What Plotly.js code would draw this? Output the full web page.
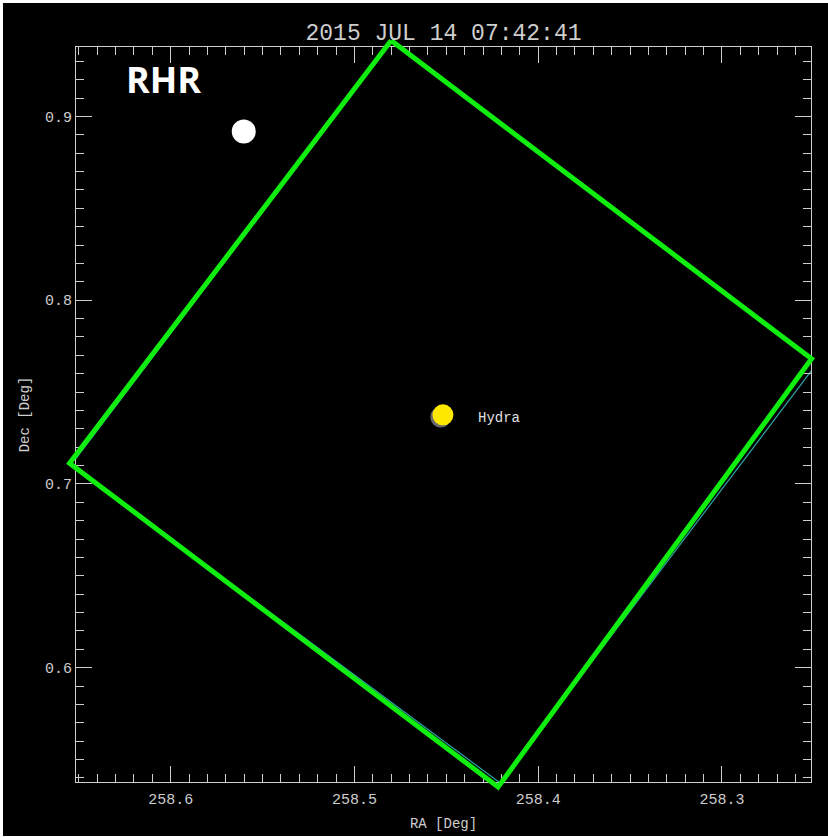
<!DOCTYPE html>
<html>
<head>
<meta charset="utf-8">
<script src="https://cdn.plot.ly/plotly-3.0.1.min.js"></script>
<style>
  html, body { margin: 0; padding: 0; background: #ffffff; width: 828px; height: 837px; overflow: hidden; }
  #chart { position: absolute; left: 3px; top: 3px; width: 825px; height: 833px; background: #000; }
</style>
</head>
<body>
<div id="chart"></div>
<script>
// ---- data ----
const titleText = "2015 JUL 14 07:42:41";
const xTitle = "RA [Deg]";
const yTitle = "Dec [Deg]";
const labelText = "RHR";
const targetName = "Hydra";

// field of view outline (green), corners in RA / Dec, closed
const fovRA  = [258.4800, 258.2512, 258.4218, 258.6550, 258.4800];
const fovDec = [0.9413, 0.7681, 0.5351, 0.7113, 0.9413];
// second (underlying, thin teal) outline
const fov2RA  = [258.4801, 258.2477, 258.4207, 258.6542, 258.4801];
const fov2Dec = [0.9405, 0.7664, 0.5373, 0.7103, 0.9405];

// Hydra position
const hydraRA = [258.4518];
const hydraDec = [0.7376];
// white disc
const dotRA = [258.5602];
const dotDec = [0.8918];

// axis ranges
const xRange = [258.6515, 258.2515];
const yRange = [0.5378, 0.9378];

// ---- layout helpers ----
const pxPerDeg = 1837.5;          // scale of the main axes
const padPx = 10;                 // overlay subplot extends this far past the frame
const pad = padPx / pxPerDeg;
const fullW = 755;
const dom = [padPx / fullW, 1 - padPx / fullW];

const axisColor = "#cdcdcd";
const monoFont = "Liberation Mono, DejaVu Sans Mono, monospace";

const traces = [
  {
    x: fov2RA, y: fov2Dec,
    mode: "lines", line: { color: "#2fa3a8", width: 1.2 },
    hoverinfo: "skip", showlegend: false
  },
  {
    x: fovRA, y: fovDec, xaxis: "x2", yaxis: "y2",
    mode: "lines", line: { color: "#10ee10", width: 5 },
    hoverinfo: "skip", showlegend: false
  },
  {
    x: hydraRA.map(v => v + 0.0012), y: hydraDec.map(v => v - 0.0012),
    mode: "markers", marker: { color: "#6a6a6a", size: 21, line: { width: 0 } },
    hoverinfo: "skip", showlegend: false
  },
  {
    x: hydraRA, y: hydraDec,
    mode: "markers", marker: { color: "#ffe800", size: 21, line: { width: 0 } },
    hoverinfo: "skip", showlegend: false
  },
  {
    x: dotRA, y: dotDec,
    mode: "markers", marker: { color: "#ffffff", size: 24, line: { width: 0 } },
    hoverinfo: "skip", showlegend: false
  }
];

const tickCommon = {
  ticks: "inside", ticklen: 16, tickwidth: 1, tickcolor: axisColor,
  showline: true, linecolor: axisColor, linewidth: 1, mirror: "ticks",
  showgrid: false, zeroline: false,
  tickfont: { family: monoFont, size: 15, color: axisColor },
  fixedrange: true
};

const layout = {
  width: 825, height: 833,
  paper_bgcolor: "#000000",
  plot_bgcolor: "rgba(0,0,0,0)",
  margin: { l: 63, r: 7, t: 34, b: 44 },
  showlegend: false,
  title: {
    text: titleText,
    font: { family: monoFont, size: 23, color: axisColor },
    x: 0.5, xref: "paper", xanchor: "center",
    y: 1 - 29 / 833, yref: "container", yanchor: "middle"
  },
  xaxis: Object.assign({}, tickCommon, {
    domain: dom, range: xRange, autorange: false,
    dtick: 0.1, tick0: 258.3, ticklabelstandoff: 3,
    minor: { dtick: 0.01, tick0: 258.3, ticks: "inside", ticklen: 8, tickwidth: 1, tickcolor: axisColor, showgrid: false },
    title: { text: xTitle, font: { family: monoFont, size: 14, color: axisColor }, standoff: 10 }
  }),
  yaxis: Object.assign({}, tickCommon, {
    domain: dom, range: yRange, autorange: false,
    dtick: 0.1, tick0: 0.6,
    minor: { dtick: 0.01, tick0: 0.6, ticks: "inside", ticklen: 8, tickwidth: 1, tickcolor: axisColor, showgrid: false },
    title: { text: yTitle, font: { family: monoFont, size: 14, color: axisColor }, standoff: 12 }
  }),
  xaxis2: {
    domain: [0, 1], anchor: "y2",
    range: [xRange[0] + pad, xRange[1] - pad], autorange: false,
    visible: false, showgrid: false, zeroline: false, fixedrange: true
  },
  yaxis2: {
    domain: [0, 1], anchor: "x2",
    range: [yRange[0] - pad, yRange[1] + pad], autorange: false,
    visible: false, showgrid: false, zeroline: false, fixedrange: true
  },
  annotations: [
    {
      text: "<b>" + labelText + "</b>", xref: "x", yref: "y",
      x: 258.6255, y: 0.9199, xanchor: "left", yanchor: "middle",
      showarrow: false, font: { family: "Open Sans, Noto Sans, sans-serif", size: 36, color: "#ffffff" }
    },
    {
      text: targetName, xref: "x", yref: "y",
      x: 258.4340, y: 0.7360, xanchor: "left", yanchor: "middle",
      showarrow: false, font: { family: monoFont, size: 14, color: "#e0e0e0" }
    }
  ]
};

Plotly.newPlot("chart", traces, layout, { displayModeBar: false, staticPlot: true });
</script>
</body>
</html>
